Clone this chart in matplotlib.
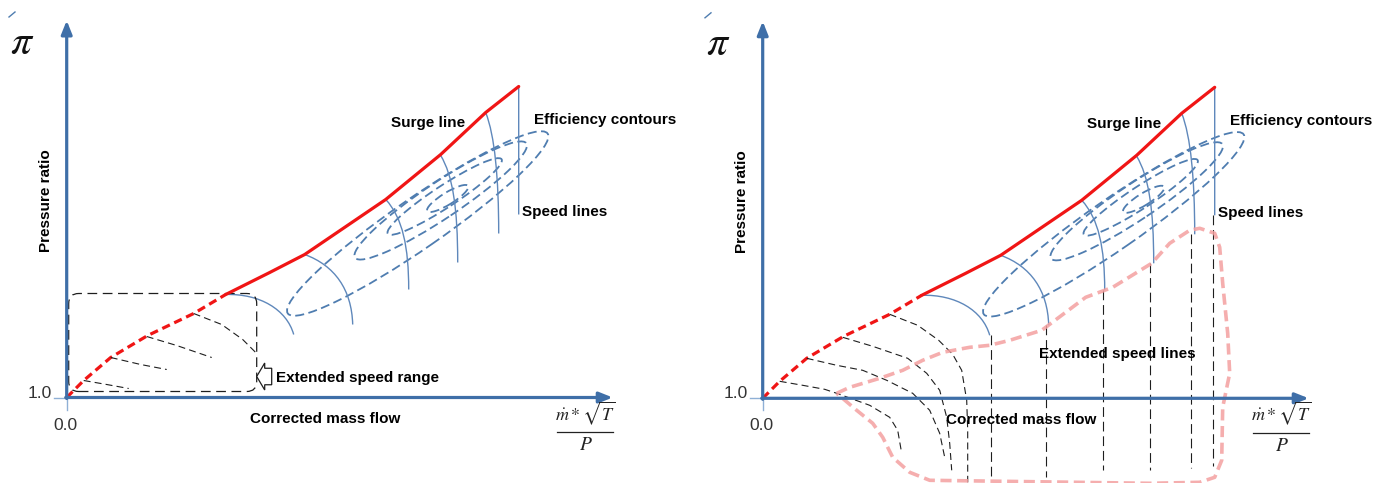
import matplotlib
matplotlib.use('Agg')
import matplotlib.pyplot as plt
from matplotlib.patches import Ellipse, FancyBboxPatch, PathPatch, FancyArrow
from matplotlib.path import Path

plt.rcParams['lines.scale_dashes'] = False
plt.rcParams['mathtext.fontset'] = 'stix'
plt.rcParams['font.family'] = ['Liberation Sans', 'DejaVu Sans']

# ---------------- schematic data (map units: corrected mass flow / pressure ratio) -------------
surge_ext_x = [0, 17, 44, 81, 127, 159]
surge_ext_y = [0, 17, 40, 62, 84, 103]
surge_x = [159, 203, 238, 319, 374, 419, 452]
surge_y = [103, 125, 143, 198, 243, 285, 311]

# speed lines as cubic Bezier control points (x list, y list)
speed_x = [[159, 193, 220, 227],
           [238, 268, 285, 286],
           [319, 336, 342, 342],
           [374, 386, 391, 391],
           [419, 428, 432, 432],
           [452, 452, 452, 452]]
speed_y = [[103, 104, 88, 63],
           [143, 132, 108, 73],
           [198, 180, 150, 108],
           [242, 222, 190, 135],
           [285, 262, 220, 164],
           [311, 270, 225, 183]]

# efficiency contours (ellipses)
eff_cx = [351, 374, 378, 381]
eff_cy = [174, 197, 201, 199]
eff_a = [158, 103, 68, 24]
eff_b = [25, 18, 11, 6]
eff_ang = [34.7, 33.7, 33.2, 31.6]

# extended speed lines (below the measured map)
ext_x = [[17, 40, 62, 74, 107, 127, 135, 139],
         [44, 74, 100, 124, 150, 167, 177, 182],
         [80, 110, 145, 164, 177, 184, 187, 189],
         [127, 155, 176, 190, 199, 204, 205, 205]]
ext_y = [[17, 13, 9, 5, -7, -19, -32, -55],
         [40, 33, 28, 18, 5, -12, -35, -59],
         [61, 52, 40, 25, 8, -19, -45, -72],
         [84, 73, 58, 44, 28, -2, -32, -84]]
ext_left_n = [3, 3, 3, 4]
ext_vert_x = [228, 283, 340, 387, 428, 450]
ext_vert_bottom = [-82, -79, -72, -72, -70, -68]

# extended region outline
pink_x = [74, 87, 117, 140, 160, 180, 207, 227, 247, 279, 323, 350, 389, 407, 427, 437,
          452, 457, 460, 465, 467, 460, 459, 452, 437, 387, 167, 147, 130, 120, 110, 94, 74]
pink_y = [5, 11, 20, 28, 38, 46, 51, 53, 58, 68, 101, 111, 135, 155, 168, 170,
          165, 151, 115, 65, 25, -9, -62, -79, -84, -85, -82, -74, -59, -39, -25, -12, 5]

AXC = '#3f6fa8'
SPC = '#5f88bb'
ELC = '#4f7db0'
RED = '#f01515'
BLK = '#1e1e1e'

fig = plt.figure(figsize=(13.77, 4.83), dpi=100)
axL = fig.add_axes([0, 0, 690 / 1377, 1])
axL.set_xlim(-66.7, 623.3)
axL.set_ylim(-85.5, 397.5)
axR = fig.add_axes([690 / 1377, 0, 687 / 1377, 1])
axR.set_xlim(-72.7, 614.3)
axR.set_ylim(-84.7, 398.3)


def bezier(ax, xs, ys, **kw):
    verts = list(zip(xs, ys))
    codes = [Path.MOVETO, Path.CURVE4, Path.CURVE4, Path.CURVE4]
    ax.add_patch(PathPatch(Path(verts, codes), fill=False, **kw))


def base(ax):
    ax.set_axis_off()
    # thin extensions
    ax.plot([-13, 0], [0, 0], color='#8fb0d6', lw=1)
    ax.plot([0, 0], [-12, 0], color='#8fb0d6', lw=1)
    # axes with arrows
    ax.annotate('', xy=(0, 377), xytext=(0, -1),
                arrowprops=dict(arrowstyle='-|>,head_length=0.8,head_width=0.32', lw=2.3,
                                color=AXC, shrinkA=0, shrinkB=0, mutation_scale=10))
    ax.annotate('', xy=(546, 0), xytext=(-1, 0),
                arrowprops=dict(arrowstyle='-|>,head_length=0.8,head_width=0.32', lw=2.3,
                                color=AXC, shrinkA=0, shrinkB=0, mutation_scale=10))
    # ellipses
    for cx, cy, a, b, an in zip(eff_cx, eff_cy, eff_a, eff_b, eff_ang):
        ax.add_patch(Ellipse((cx, cy), 2 * a, 2 * b, angle=an, fill=False, ec=ELC,
                             lw=1.3, ls=(0, (6.5, 3.2))))
    # speed lines
    for xs, ys in zip(speed_x, speed_y):
        bezier(ax, xs, ys, ec=SPC, lw=1.0)
    # surge line
    ax.plot(surge_ext_x, surge_ext_y, color=RED, lw=2.3, dashes=(6, 3.5))
    ax.plot(surge_x, surge_y, color=RED, lw=2.3, solid_capstyle='round')
    # texts
    tk = dict(fontsize=11, fontweight='bold', ha='center', va='center', color='black')
    ax.text(361, 274.5, 'Surge line', **tk)
    ax.text(538, 277.5, 'Efficiency contours', **tk)
    ax.text(498, 185.5, 'Speed lines', **tk)
    ax.text(258, -21.5, 'Corrected mass flow', **tk)
    ax.text(-20.7, 196.5, 'Pressure ratio', rotation=90, **tk)
    ax.text(-44.7, 354.5, r'$\pi$', fontsize=30, ha='center', va='center', color='#111')
    ax.plot([-57.7, -51.7], [380.5, 385.5], color=ELC, lw=1)
    ax.text(-26.7, 4.5, '1.0', fontsize=12.5, ha='center', va='center', color='#333')
    ax.text(-1.2, -27.5, '0.0', fontsize=12.5, ha='center', va='center', color='#333')
    ax.text(519, -15.5, r'$\dot{m}*\sqrt{T}$', fontsize=13, ha='center', va='center', color='#222')
    ax.plot([490, 546], [-34.5, -34.5], color='#222', lw=0.9)
    ax.text(519, -48.5, r'$P$', fontsize=14, ha='center', va='center', color='#222')


base(axL)
base(axR)

# ---- left panel extras
for xs, ys, n in zip(ext_x, ext_y, ext_left_n):
    axL.plot(xs[:n], ys[:n], color=BLK, lw=0.8, dashes=(5, 3))
axL.add_patch(FancyBboxPatch((2, 6), 188, 98, boxstyle='round,pad=0,rounding_size=10',
                             fill=False, ec=BLK, lw=0.9, ls=(0, (7, 4))))
axL.add_patch(FancyArrow(205, 21, -15, 0, width=16.5, head_width=27, head_length=8,
                         length_includes_head=True, fc='white', ec=BLK, lw=0.9))
axL.text(291, 19.5, 'Extended speed range', fontsize=11, fontweight='bold',
         ha='center', va='center')

# ---- right panel extras
for xs, ys in zip(ext_x, ext_y):
    axR.plot(xs, ys, color=BLK, lw=0.8, dashes=(5, 3))
for vx, ys, yb in zip(ext_vert_x, speed_y, ext_vert_bottom):
    axR.plot([vx, vx], [ys[-1], yb], color=BLK, lw=0.8, dashes=(7, 3.5))
axR.plot(pink_x, pink_y, color='#f4a0a0', lw=2.6, dashes=(8, 4), alpha=0.85, clip_on=False)
axR.text(355, 44, 'Extended speed lines', fontsize=11, fontweight='bold',
         ha='center', va='center')

fig.savefig('out.png', dpi=100)
